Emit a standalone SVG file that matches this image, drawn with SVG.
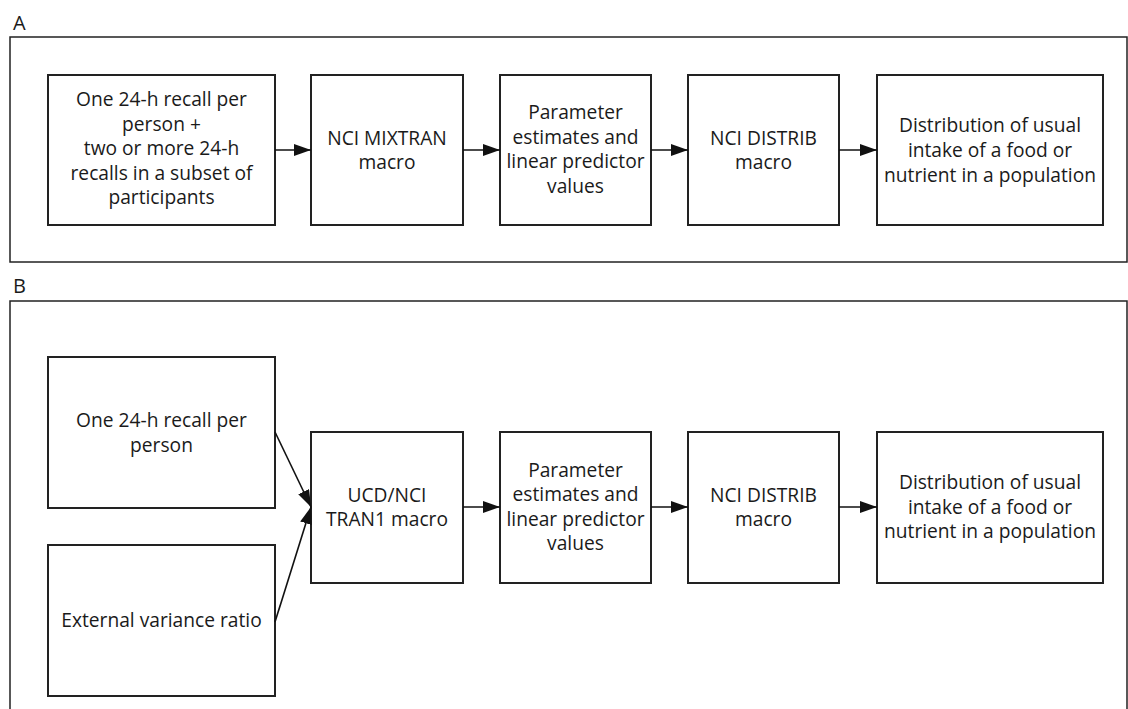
<svg xmlns="http://www.w3.org/2000/svg" width="1128" height="709" viewBox="0 0 1128 709">
<defs>
<style>
.panel{fill:none;stroke:#222;stroke-width:1.5}
.box{fill:#fff;stroke:#222;stroke-width:2}
.t{font-family:"Open Sans","Noto Sans","Liberation Sans",sans-serif;font-size:19.2px;fill:#1a1a1a;text-anchor:middle}
.lbl{font-family:"Open Sans","Noto Sans","Liberation Sans",sans-serif;font-size:20px;fill:#1a1a1a}
.c{stroke:#111;stroke-width:1.6;fill:none;marker-end:url(#ah)}
</style>
<marker id="ah" markerUnits="userSpaceOnUse" markerWidth="18" markerHeight="12" refX="17" refY="6" orient="auto">
<path d="M0,0 L17,6 L0,12 Z" fill="#111"/>
</marker>
</defs>
<rect width="1128" height="709" fill="#fff"/>
<g id="panelA">
<text class="lbl" x="13" y="30">A</text>
<rect class="panel" x="10" y="37" width="1117" height="225"/>
</g>
<g id="panelB">
<text class="lbl" x="13" y="293">B</text>
<path class="panel" d="M10,712 L10,301 L1127,301 L1127,712"/>
</g>
<g id="a1"><rect class="box" x="48" y="75" width="227" height="150"/>
<text class="t"><tspan x="161.5" y="106">One 24-h recall per</tspan><tspan x="161.5" y="131">person +</tspan><tspan x="161.5" y="155">two or more 24-h</tspan><tspan x="161.5" y="180">recalls in a subset of</tspan><tspan x="161.5" y="204">participants</tspan></text></g>
<g id="a2"><rect class="box" x="311" y="75" width="152" height="150"/>
<text class="t"><tspan x="387" y="145">NCI MIXTRAN</tspan><tspan x="387" y="169">macro</tspan></text></g>
<g id="a3"><rect class="box" x="500" y="75" width="151" height="150"/>
<text class="t"><tspan x="575.5" y="119">Parameter</tspan><tspan x="575.5" y="144">estimates and</tspan><tspan x="575.5" y="168">linear predictor</tspan><tspan x="575.5" y="193">values</tspan></text></g>
<g id="a4"><rect class="box" x="688" y="75" width="151" height="150"/>
<text class="t"><tspan x="763.5" y="145">NCI DISTRIB</tspan><tspan x="763.5" y="169">macro</tspan></text></g>
<g id="a5"><rect class="box" x="877" y="75" width="226" height="150"/>
<text class="t"><tspan x="990" y="132">Distribution of usual</tspan><tspan x="990" y="157">intake of a food or</tspan><tspan x="990" y="182">nutrient in a population</tspan></text></g>
<g id="b1"><rect class="box" x="48" y="357" width="227" height="151"/>
<text class="t"><tspan x="161.5" y="427">One 24-h recall per</tspan><tspan x="161.5" y="452">person</tspan></text></g>
<g id="b2"><rect class="box" x="48" y="545" width="227" height="151"/>
<text class="t"><tspan x="161.5" y="627">External variance ratio</tspan></text></g>
<g id="b3"><rect class="box" x="311" y="432" width="152" height="151"/>
<text class="t"><tspan x="387" y="502">UCD/NCI</tspan><tspan x="387" y="526">TRAN1 macro</tspan></text></g>
<g id="b4"><rect class="box" x="500" y="432" width="151" height="151"/>
<text class="t"><tspan x="575.5" y="477">Parameter</tspan><tspan x="575.5" y="501">estimates and</tspan><tspan x="575.5" y="526">linear predictor</tspan><tspan x="575.5" y="550">values</tspan></text></g>
<g id="b5"><rect class="box" x="688" y="432" width="151" height="151"/>
<text class="t"><tspan x="763.5" y="502">NCI DISTRIB</tspan><tspan x="763.5" y="526">macro</tspan></text></g>
<g id="b6"><rect class="box" x="877" y="432" width="226" height="151"/>
<text class="t"><tspan x="990" y="489">Distribution of usual</tspan><tspan x="990" y="514">intake of a food or</tspan><tspan x="990" y="538">nutrient in a population</tspan></text></g>
<g id="connectors">
<line class="c" x1="275" y1="150" x2="311" y2="150"/>
<line class="c" x1="463" y1="150" x2="500" y2="150"/>
<line class="c" x1="651" y1="150" x2="688" y2="150"/>
<line class="c" x1="839" y1="150" x2="877" y2="150"/>
<line class="c" x1="275" y1="432" x2="311" y2="507"/>
<line class="c" x1="275" y1="622" x2="311" y2="507"/>
<line class="c" x1="463" y1="507" x2="500" y2="507"/>
<line class="c" x1="651" y1="507" x2="688" y2="507"/>
<line class="c" x1="839" y1="507" x2="877" y2="507"/>
</g>
</svg>
